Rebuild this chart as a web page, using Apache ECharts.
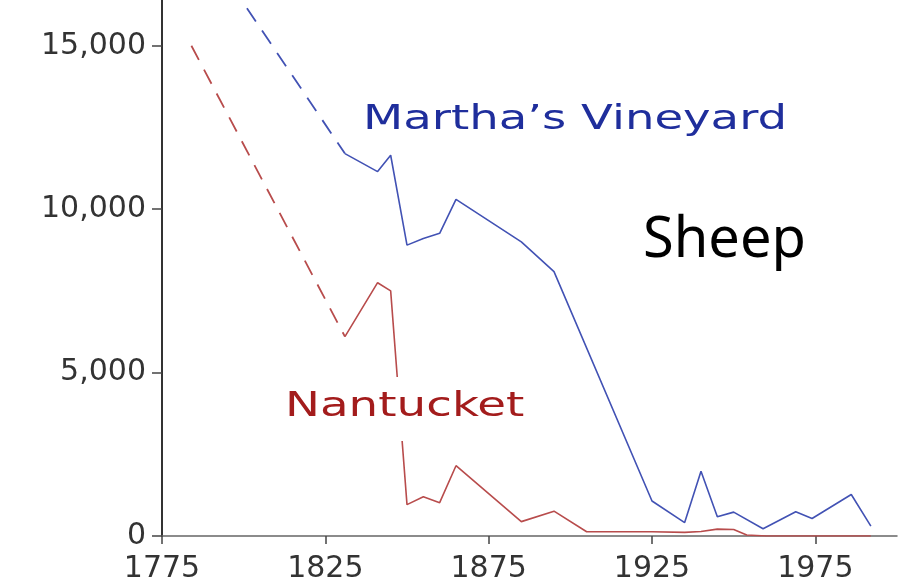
<!DOCTYPE html>
<html>
<head>
<meta charset="utf-8">
<script src="https://cdn.jsdelivr.net/npm/echarts@6/dist/echarts.min.js"></script>
<style>
  html, body { margin: 0; padding: 0; background: #fff; }
  #chart { width: 899px; height: 586px; }
</style>
</head>
<body>
<div id="chart"></div>
<script>
// tick labels
const xTicks = [1775, 1825, 1875, 1925, 1975];
const yTicks = [0, 5000, 10000, 15000];

// Martha's Vineyard: dashed early estimate, then recorded counts
const mvDashYears = [1801, 1831];
const mvDashSheep = [16150, 11700];
const mvYears = [1831, 1841, 1845, 1850, 1855, 1860, 1865, 1885, 1895, 1925, 1935, 1940, 1945, 1950, 1959, 1969, 1974, 1986, 1992];
const mvSheep = [11700, 11150, 11650, 8900, 9100, 9260, 10300, 9000, 8090, 1070, 410, 1980, 590, 730, 220, 740, 535, 1270, 300];

// Nantucket
const nanDashYears = [1784, 1831];
const nanDashSheep = [15000, 6100];
const nanYears = [1831, 1841, 1845, 1850, 1855, 1860, 1865, 1885, 1895, 1905, 1925, 1935, 1940, 1945, 1950, 1954, 1960, 1992];
const nanSheep = [6100, 7750, 7500, 960, 1200, 1020, 2150, 440, 760, 130, 130, 110, 140, 210, 200, 30, 0, 0];

const pairs = (xs, ys) => xs.map((x, i) => [x, ys[i]]);

const blueLine = '#4252b4';
const redLine = '#b84c4c';

const myChart = echarts.init(document.getElementById('chart'));
const options = {
  animation: false,
  grid: { left: 162, right: 2, top: 0, bottom: 50 },
  xAxis: {
    type: 'value',
    min: 1775,
    max: 2000,
    splitLine: { show: false },
    axisLine: { lineStyle: { color: '#666', width: 1.5 } },
    axisTick: { show: true, length: 8, customValues: xTicks, lineStyle: { color: '#444', width: 1.5 } },
    axisLabel: {
      customValues: xTicks,
      formatter: (v) => String(v),
      color: '#333',
      fontFamily: 'DejaVu Sans',
      fontSize: 30,
      margin: 18
    }
  },
  yAxis: {
    type: 'value',
    min: 0,
    max: 16400,
    splitLine: { show: false },
    axisLine: { show: true, lineStyle: { color: '#333', width: 2 } },
    axisTick: { show: true, length: 10, customValues: yTicks, lineStyle: { color: '#444', width: 1.5 } },
    axisLabel: {
      customValues: yTicks,
      formatter: (v) => v.toLocaleString('en-US'),
      color: '#333',
      fontFamily: 'DejaVu Sans',
      fontSize: 30,
      margin: 16
    }
  },
  series: [
    {
      name: 'Martha’s Vineyard (estimate)',
      type: 'line',
      symbol: 'none',
      data: pairs(mvDashYears, mvDashSheep),
      lineStyle: { color: blueLine, width: 1.8, type: [16, 11] }
    },
    {
      name: 'Martha’s Vineyard',
      type: 'line',
      symbol: 'none',
      data: pairs(mvYears, mvSheep),
      lineStyle: { color: blueLine, width: 1.6 }
    },
    {
      name: 'Nantucket (estimate)',
      type: 'line',
      symbol: 'none',
      data: pairs(nanDashYears, nanDashSheep),
      lineStyle: { color: redLine, width: 1.8, type: [16, 11] }
    },
    {
      name: 'Nantucket',
      type: 'line',
      symbol: 'none',
      data: pairs(nanYears, nanSheep),
      lineStyle: { color: redLine, width: 1.6 }
    }
  ],
  graphic: [
    {
      type: 'rect',
      z: 50,
      shape: { x: 280, y: 377, width: 250, height: 64 },
      style: { fill: '#fff' }
    },
    {
      type: 'text',
      z: 60,
      x: 285,
      y: 407,
      scaleX: 1.375,
      style: {
        text: 'Nantucket',
        fill: '#a31c1c',
        font: '34px "DejaVu Sans"',
        textAlign: 'left',
        textVerticalAlign: 'middle'
      }
    },
    {
      type: 'text',
      z: 60,
      x: 363,
      y: 120,
      scaleX: 1.37,
      style: {
        text: 'Martha’s Vineyard',
        fill: '#1f2e9c',
        font: '34px "DejaVu Sans"',
        textAlign: 'left',
        textVerticalAlign: 'middle'
      }
    },
    {
      type: 'text',
      z: 60,
      x: 643,
      y: 241,
      style: {
        text: 'Sheep',
        fill: '#000',
        font: '56px "Noto Sans"',
        textAlign: 'left',
        textVerticalAlign: 'middle'
      }
    }
  ]
};
myChart.setOption(options);
window.onresize = function () {
  myChart.resize();
};
</script>
</body>
</html>
